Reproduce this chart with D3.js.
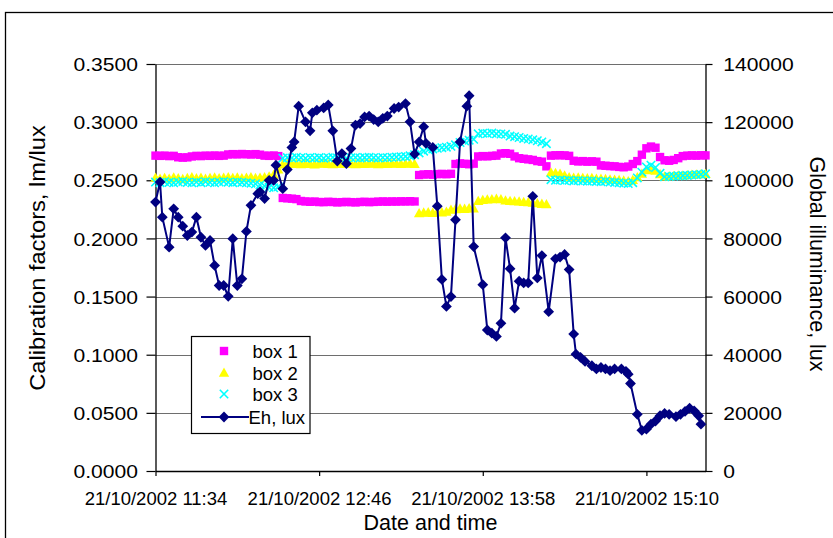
<!DOCTYPE html>
<html><head><meta charset="utf-8">
<script src="https://cdn.jsdelivr.net/npm/d3@7"></script>
<style>
body{margin:0;background:#fff;overflow:hidden}
svg{display:block}
text{font-family:"Liberation Sans",Arial,Helvetica,sans-serif;fill:#000}
</style>
</head><body><div id="chart"></div>
<script>
// ---------------- DATA ----------------
const xDomain = ["11:34", "15:36"];
const xTickTimes = ["11:34", "12:46", "13:58", "15:10"];
const xTickLabels = ["21/10/2002 11:34", "21/10/2002 12:46", "21/10/2002 13:58", "21/10/2002 15:10"];
const leftTicks = [0, 0.05, 0.10, 0.15, 0.20, 0.25, 0.30, 0.35];
const rightTicks = [0, 20000, 40000, 60000, 80000, 100000, 120000, 140000];
const seriesNames = ["box 1", "box 2", "box 3", "Eh, lux"];
const leftTitle = "Calibration factors, lm/lux";
const rightTitle = "Global illuminance, lux";
const xTitle = "Date and time";

// box series sampled every 2 minutes from 11:34
const boxStart = "11:34";
const boxStepMinutes = 2;
const box1 = [
 0.2712,0.2710,0.2712,0.2708,0.2710,
 0.2698,0.2695,0.2697,
 0.2705,0.2710,0.2708,0.2712,0.2710,0.2713,0.2710,0.2712,
 0.2722,0.2725,0.2723,0.2726,0.2724,0.2722,0.2725,0.2720,
 0.2712,0.2710,0.2713,0.2708,
 0.2348,0.2345,0.2342,0.2338,
 0.2322,0.2318,0.2315,0.2317,0.2313,0.2312,0.2315,0.2313,0.2310,0.2312,0.2314,0.2312,0.2310,
 0.2313,0.2315,0.2312,0.2314,0.2316,0.2318,0.2316,0.2318,0.2317,0.2319,0.2318,0.2320,0.2318,
 0.2545,0.2550,0.2552,0.2548,0.2553,0.2555,0.2552,0.2556,
 0.2640,0.2645,0.2642,0.2638,0.2643,
 0.2705,0.2708,0.2706,0.2710,0.2712,
 0.2730,0.2733,0.2728,
 0.2705,0.2690,0.2685,0.2680,0.2675,0.2665,0.2660,
 0.2620,
 0.2712,0.2715,0.2716,0.2714,0.2710,
 0.2668,0.2662,0.2665,0.2660,0.2663,0.2660,
 0.2628,0.2625,0.2622,0.2620,0.2615,0.2612,0.2618,
 0.2640,0.2665,0.2720,
 0.2775,0.2790,0.2780,
 0.2700,0.2672,0.2668,0.2675,0.2690,
 0.2708,0.2712,0.2714,0.2712,0.2715,0.2714
];
const box2 = [
 0.2520,0.2510,0.2518,0.2512,0.2522,0.2515,0.2508,0.2518,0.2525,0.2515,0.2520,0.2512,0.2518,0.2522,
 0.2515,0.2520,0.2525,0.2518,0.2522,0.2515,0.2520,0.2525,0.2518,0.2520,0.2525,0.2530,0.2545,
 0.2590,
 0.2635,0.2640,0.2638,0.2642,0.2636,0.2640,0.2638,0.2635,0.2640,0.2642,0.2638,0.2636,0.2640,0.2638,0.2642,
 0.2640,0.2637,0.2640,0.2638,0.2642,0.2640,0.2636,0.2640,0.2638,0.2642,0.2640,0.2638,0.2640,0.2642,0.2638,
 0.2215,0.2220,0.2222,0.2218,0.2225,0.2222,0.2228,
 0.2245,0.2250,0.2255,0.2252,0.2258,0.2255,
 0.2320,0.2328,0.2332,0.2335,0.2338,0.2335,
 0.2325,0.2320,0.2318,0.2315,0.2312,0.2310,0.2305,0.2300,0.2295,0.2292,
 0.2565,0.2560,0.2555,0.2540,
 0.2525,0.2520,0.2522,0.2518,0.2515,0.2518,0.2512,0.2510,0.2508,0.2505,0.2502,0.2500,0.2495,0.2490,0.2500,
 0.2525,0.2555,0.2585,0.2595,0.2580,0.2550,
 0.2530,0.2532,0.2535,0.2538,0.2540,0.2542,0.2545,0.2548,0.2550,0.2552
];
const box3 = [
 0.2485,0.2480,0.2488,0.2482,0.2478,0.2485,0.2490,0.2482,0.2478,0.2485,0.2480,0.2488,
 0.2483,0.2478,0.2485,0.2490,0.2484,0.2480,0.2486,0.2482,0.2478,0.2475,0.2470,
 0.2460,0.2450,0.2440,0.2435,0.2445,
 0.2690,0.2695,0.2692,0.2698,0.2694,0.2690,0.2696,0.2692,0.2695,0.2690,0.2694,0.2698,0.2692,0.2695,0.2690,
 0.2694,0.2696,0.2692,0.2695,0.2698,0.2694,0.2692,0.2696,0.2694,0.2698,0.2700,0.2702,0.2705,0.2710,0.2720,
 0.2735,0.2750,0.2762,0.2770,0.2775,0.2780,0.2785,0.2792,0.2805,
 0.2825,0.2838,0.2845,0.2852,
 0.2900,0.2905,0.2902,0.2906,0.2900,0.2898,0.2895,
 0.2880,0.2875,0.2868,0.2860,0.2855,0.2848,0.2840,0.2830,0.2815,
 0.2505,0.2500,0.2502,0.2498,0.2500,0.2495,0.2498,0.2495,0.2492,0.2495,0.2490,0.2488,0.2492,0.2485,0.2482,0.2478,0.2475,0.2472,0.2480,
 0.2520,0.2570,0.2615,0.2630,0.2610,0.2560,
 0.2530,0.2532,0.2535,0.2538,0.2540,0.2542,0.2545,0.2548,0.2550,0.2555
];

const ehTimes = [
 "11:34","11:36","11:37","11:40","11:42","11:44","11:46","11:48","11:50","11:52",
 "11:54","11:56","11:58","12:00","12:02","12:04","12:06","12:08","12:10","12:12",
 "12:14","12:16","12:19","12:20","12:22","12:24","12:26","12:27","12:30","12:32",
 "12:34","12:35","12:37","12:40","12:42","12:43","12:45","12:48","12:50","12:52",
 "12:54","12:56","12:58","13:00","13:02","13:04","13:06","13:08","13:10","13:12",
 "13:14","13:16","13:19","13:21","13:24","13:26","13:28","13:30","13:32","13:33",
 "13:36","13:38","13:40","13:42","13:44","13:46","13:48","13:51","13:52","13:54",
 "13:58","14:00","14:02","14:04","14:06","14:08","14:10","14:12","14:14","14:16",
 "14:18","14:20","14:22","14:24","14:27","14:30","14:32","14:34","14:36","14:38",
 "14:39","14:41","14:43","14:46","14:48","14:50","14:52","14:54","14:56","14:59",
 "15:01","15:02","15:03","15:06","15:08","15:10","15:12","15:14","15:16","15:18",
 "15:20","15:23","15:25","15:27","15:29","15:31","15:33","15:34"
];
const ehValues = [
 92500,99400,87300,77000,90200,87300,84200,81000,82200,87300,
 80400,77600,79300,70700,63800,63800,60100,79900,63800,66100,
 82400,91400,95400,96000,93700,100000,100000,105200,97100,103700,
 111300,113200,125500,120100,117000,123200,124100,124900,125900,117000,
 106600,109200,105700,110900,119000,119500,121800,122100,120900,120100,
 121300,122100,124700,125200,126400,120100,109000,113200,118400,112700,
 111300,91100,65900,56600,60000,86400,113200,125500,129100,77200,
 64100,48500,47400,46300,50800,80200,69600,56000,65300,64700,
 64700,94500,66400,74100,54800,73000,73600,74500,69300,47100,
 40200,39100,37700,36200,35100,35600,35100,34500,35100,35100,
 34300,33300,30100,19500,14000,14400,16100,17200,19000,19800,
 19500,18700,19500,20500,21600,20700,19000,16100
];

// ---------------- CHART ----------------
const W = 833, H = 538;
const toMin = s => { const [h, m] = s.split(":").map(Number); return h * 60 + m; };
const plot = {left: 155.5, right: 705.5, top: 64, bottom: 471};

const svg = d3.select("#chart").append("svg").attr("width", W).attr("height", H);
svg.append("rect").attr("x", 5.5).attr("y", 12.5).attr("width", 900).attr("height", 600)
  .attr("fill", "#fff").attr("stroke", "#000").attr("stroke-width", 1.3);

const x = d3.scaleLinear().domain(xDomain.map(toMin)).range([plot.left, plot.right]);
const yL = d3.scaleLinear().domain([0, 0.35]).range([plot.bottom, plot.top]);
const yR = d3.scaleLinear().domain([0, 140000]).range([plot.bottom, plot.top]);

// gridlines
svg.append("g").selectAll("line").data(leftTicks.filter(d => d > 0)).join("line")
  .attr("x1", plot.left).attr("x2", plot.right)
  .attr("y1", d => Math.round(yL(d)) + 0.5).attr("y2", d => Math.round(yL(d)) + 0.5)
  .attr("stroke", "#6e6e6e").attr("stroke-width", 1.2);

// axes
const fontSize = 18.5;
const gL = svg.append("g").attr("transform", `translate(${plot.left},0)`)
  .call(d3.axisLeft(yL).tickValues(leftTicks).tickFormat(d3.format(".4f")).tickSizeOuter(0).tickSizeInner(9));
gL.selectAll("text").attr("x", 0).attr("dy", "0.36em")
  .attr("transform", "translate(-17.5,0) scale(1.14,1)");

const gR = svg.append("g").attr("transform", `translate(${plot.right},0)`)
  .call(d3.axisRight(yR).tickValues(rightTicks).tickFormat(d3.format("d")).tickSizeOuter(0).tickSizeInner(7));
gR.selectAll("text").attr("x", 0).attr("dy", "0.36em")
  .attr("transform", "translate(17.8,0) scale(1.14,1)");

const gB = svg.append("g").attr("transform", `translate(0,${plot.bottom})`)
  .call(d3.axisBottom(x).tickValues(xTickTimes.map(toMin))
    .tickFormat((d, i) => xTickLabels[i]).tickSizeOuter(0).tickSizeInner(5));
gB.selectAll("text").attr("y", 34).attr("dy", 0);

[gL, gR, gB].forEach(g => {
  g.selectAll("text").attr("font-size", fontSize).attr("font-family", null).attr("fill", "#000");
  g.selectAll("line").attr("stroke", "#000").attr("stroke-width", 1.2);
  g.select(".domain").attr("stroke", "#000").attr("stroke-width", 1.3);
});

// titles
svg.append("text").attr("x", 430.5).attr("y", 530).attr("text-anchor", "middle")
  .attr("font-size", 21.5).text(xTitle);
svg.append("text").attr("transform", "translate(45,258) rotate(-90) scale(1.1,1)")
  .attr("text-anchor", "middle").attr("font-size", 21.5).text(leftTitle);
svg.append("text").attr("transform", "translate(810,264) rotate(90)")
  .attr("text-anchor", "middle").attr("font-size", 21.5).text(rightTitle);

// marker shapes
const squarePath = "M-4.2,-4.2H4.2V4.2H-4.2Z";
const trianglePath = "M0,-5.5L5.2,3.8L-5.2,3.8Z";
const crossPath = "M-4.2,-4.2L4.2,4.2M4.2,-4.2L-4.2,4.2";
const diamondPath = "M0,-5.4L5.4,0L0,5.4L-5.4,0Z";

const boxT0 = toMin(boxStart);
const boxData = arr => arr.map((v, i) => ({t: boxT0 + i * boxStepMinutes, v}));

const plotG = svg.append("g");
plotG.append("g").selectAll("path").data(boxData(box1)).join("path")
  .attr("d", squarePath).attr("transform", d => `translate(${x(d.t)},${yL(d.v)})`)
  .attr("fill", "#ff00ff");
plotG.append("g").selectAll("path").data(boxData(box2)).join("path")
  .attr("d", trianglePath).attr("transform", d => `translate(${x(d.t)},${yL(d.v)})`)
  .attr("fill", "#ffff00");
plotG.append("g").selectAll("path").data(boxData(box3)).join("path")
  .attr("d", crossPath).attr("transform", d => `translate(${x(d.t)},${yL(d.v)})`)
  .attr("fill", "none").attr("stroke", "#00ffff").attr("stroke-width", 1.6);

const ehData = ehTimes.map((t, i) => ({t: toMin(t), v: ehValues[i]}));
plotG.append("path").datum(ehData)
  .attr("d", d3.line().x(d => x(d.t)).y(d => yR(d.v)))
  .attr("fill", "none").attr("stroke", "#000080").attr("stroke-width", 2);
plotG.append("g").selectAll("path").data(ehData).join("path")
  .attr("d", diamondPath).attr("transform", d => `translate(${x(d.t)},${yR(d.v)})`)
  .attr("fill", "#000080");

// legend
const lg = svg.append("g");
lg.append("rect").attr("x", 191.5).attr("y", 336.5).attr("width", 118.5).attr("height", 97)
  .attr("fill", "#fff").attr("stroke", "#000").attr("stroke-width", 1.2);
const legendRows = [
  {name: seriesNames[0], y: 351, draw: g => g.append("path").attr("d", squarePath).attr("fill", "#ff00ff")},
  {name: seriesNames[1], y: 373, draw: g => g.append("path").attr("d", trianglePath).attr("fill", "#ffff00")},
  {name: seriesNames[2], y: 394, draw: g => g.append("path").attr("d", crossPath).attr("fill", "none").attr("stroke", "#00ffff").attr("stroke-width", 1.6)},
  {name: seriesNames[3], y: 417, draw: g => {
    g.append("line").attr("x1", -23).attr("x2", 25).attr("stroke", "#000080").attr("stroke-width", 2);
    g.append("path").attr("d", diamondPath).attr("fill", "#000080");
  }}
];
legendRows.forEach((r, i) => {
  const g = lg.append("g").attr("transform", `translate(224,${r.y})`);
  r.draw(g);
  lg.append("text").attr("x", i === 3 ? 248.5 : 252.5).attr("y", r.y).attr("dy", "0.36em")
    .attr("font-size", fontSize).text(r.name);
});
</script>
</body></html>
